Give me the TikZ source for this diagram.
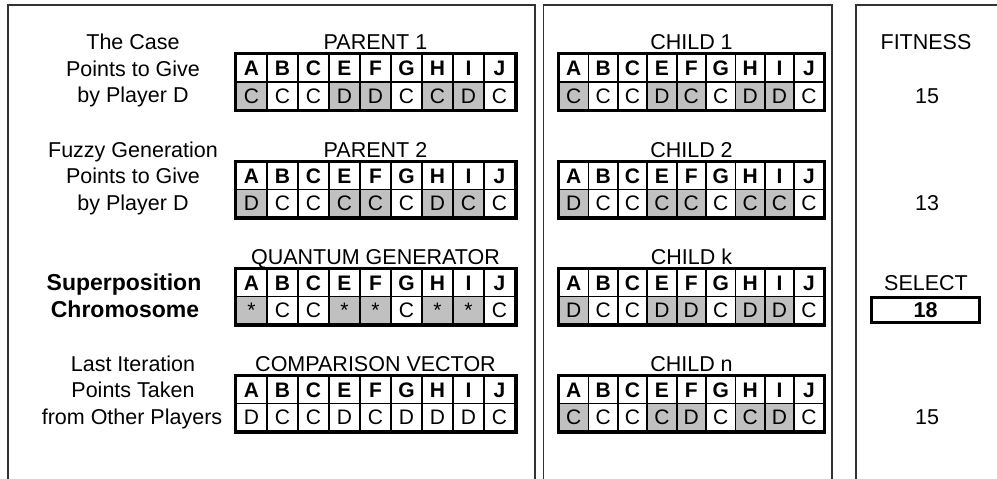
\documentclass[tikz,border=0pt]{standalone}
\usepackage{fontspec}
\setmainfont{Liberation Sans}
\definecolor{cellgray}{RGB}{192,192,192}
\definecolor{panelline}{RGB}{50,50,50}
\tikzset{
  lbl/.style={font=\fontsize{21.5}{25}\selectfont, anchor=base, inner sep=0pt},
  blbl/.style={font=\fontsize{23}{26}\selectfont\bfseries, anchor=base, inner sep=0pt},
  hcell/.style={font=\fontsize{21}{24}\selectfont\bfseries, minimum height=27.5pt, inner sep=0pt, text height=15pt, text depth=0pt, fill=white, draw=black, line width=1.8pt},
  dcell/.style={font=\fontsize{21}{24}\selectfont, minimum height=27.5pt, inner sep=0pt, text height=15pt, text depth=0pt, draw=black, line width=1.8pt},
  tborder/.style={line width=3.2pt, draw=black},
  panel/.style={line width=1.4pt, draw=panelline},
  selbox/.style={draw=black, line width=2.6pt, minimum width=108pt, minimum height=25pt, inner sep=0pt, text height=15pt, text depth=0pt, font=\fontsize{21.5}{25}\selectfont\bfseries},
}
% #1 prefix, #2 left x, #3 top y, #4 cell width, #5 values/fills
\newcommand\chromo[5]{%
  \foreach \lt [count=\ci] in {A,B,C,E,F,G,H,I,J}
    \node[hcell, minimum width=#4pt] (#1h\ci) at ({#2+(\ci-0.5)*#4}, {#3+13.75}) {\lt};
  \foreach \val/\shd [count=\ci] in {#5}
    \node[dcell, fill=\shd, minimum width=#4pt] (#1d\ci) at ({#2+(\ci-0.5)*#4}, {#3+41.25}) {\val};
  \draw[tborder] (#1h1.north west) rectangle (#1d9.south east);
}
\begin{document}
\begin{tikzpicture}[x=1pt,y=-1pt]
\useasboundingbox (0,0) rectangle (997,479);
% panels
\draw[panel] (8,482) -- (8,5) -- (535,5) -- (535,482);
\draw[panel] (543.5,482) -- (543.5,5) -- (832,5) -- (832,482);
\draw[panel] (856,482) -- (856,5) -- (1000,5);
% left labels (baseline = visual centre + 7.7)
\node[lbl] (l1a) at (133,49.7) {The Case};
\node[lbl] (l1b) at (133,76.2) {Points to Give};
\node[lbl] (l1c) at (133,102.7) {by Player D};
\node[lbl] (l2a) at (133,157.2) {Fuzzy Generation};
\node[lbl] (l2b) at (133,183.7) {Points to Give};
\node[lbl] (l2c) at (133,210.7) {by Player D};
\node[blbl] (l3a) at (124,290) {Superposition};
\node[blbl] (l3b) at (125,317) {Chromosome};
\node[lbl] (l4a) at (133,371.2) {Last Iteration};
\node[lbl] (l4b) at (133,397.7) {Points Taken};
\node[lbl] (l4c) at (132,424.7) {from Other Players};
% titles
\node[lbl] (t1) at (375.5,49.7) {PARENT 1};
\node[lbl] (t2) at (375.5,157.2) {PARENT 2};
\node[lbl] (t3) at (375.5,264.2) {QUANTUM GENERATOR};
\node[lbl] (t4) at (375.5,371.2) {COMPARISON VECTOR};
\node[lbl] (c1) at (691.5,49.7) {CHILD 1};
\node[lbl] (c2) at (691.5,157.2) {CHILD 2};
\node[lbl] (c3) at (691.5,264.2) {CHILD k};
\node[lbl] (c4) at (691.5,371.2) {CHILD n};
% tables
\chromo{pa}{236}{54.5}{31}{C/cellgray,C/white,C/white,D/cellgray,D/cellgray,C/white,C/cellgray,D/cellgray,C/white}
\chromo{pb}{236}{162}{31}{D/cellgray,C/white,C/white,C/cellgray,C/cellgray,C/white,D/cellgray,C/cellgray,C/white}
\chromo{qg}{236}{269}{31}{*/cellgray,C/white,C/white,*/cellgray,*/cellgray,C/white,*/cellgray,*/cellgray,C/white}
\chromo{cv}{236}{376}{31}{D/white,C/white,C/white,D/white,C/white,D/white,D/white,D/white,C/white}
\chromo{ca}{559}{54.5}{29.4}{C/cellgray,C/white,C/white,D/cellgray,C/cellgray,C/white,D/cellgray,D/cellgray,C/white}
\chromo{cb}{559}{162}{29.4}{D/cellgray,C/white,C/white,C/cellgray,C/cellgray,C/white,C/cellgray,C/cellgray,C/white}
\chromo{ck}{559}{269}{29.4}{D/cellgray,C/white,C/white,D/cellgray,D/cellgray,C/white,D/cellgray,D/cellgray,C/white}
\chromo{cn}{559}{376}{29.4}{C/cellgray,C/white,C/white,C/cellgray,D/cellgray,C/white,C/cellgray,D/cellgray,C/white}
% fitness
\node[lbl] (fit) at (926,49.7) {FITNESS};
\node[lbl] (f1) at (927,103.7) {15};
\node[lbl] (f2) at (927,210.7) {13};
\node[lbl] (sel) at (926,290.2) {SELECT};
\node[selbox] (f3) at (925.5,310.2) {18};
\node[lbl] (f4) at (927,424.9) {15};
\end{tikzpicture}
\end{document}
